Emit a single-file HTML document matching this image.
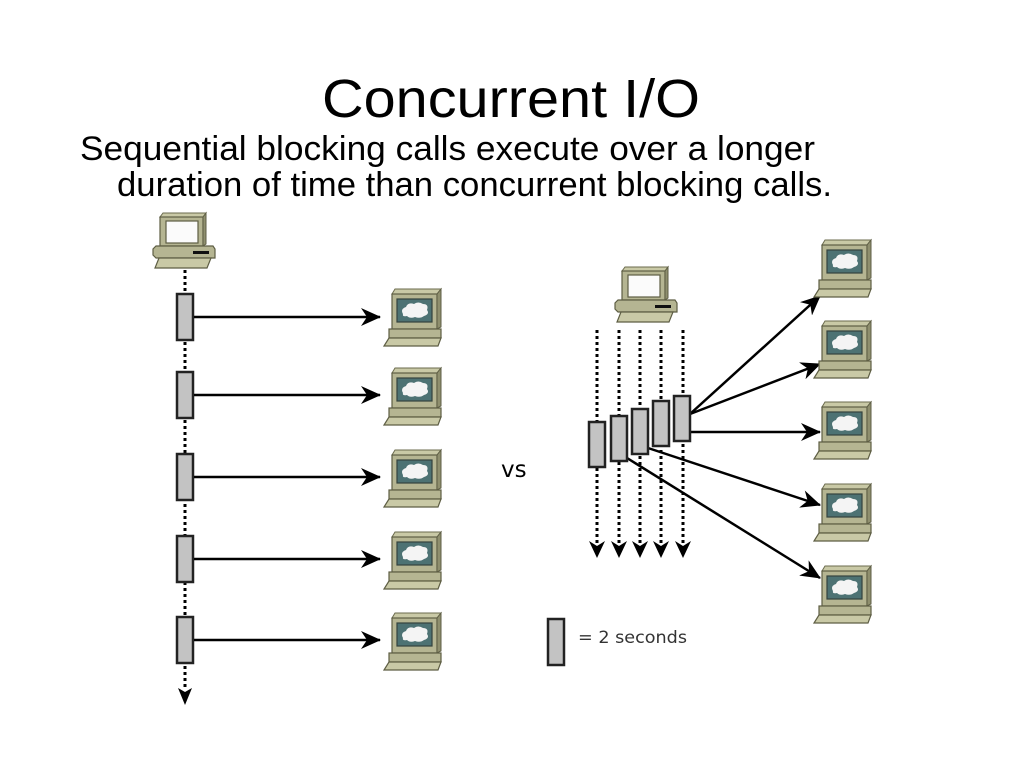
<!DOCTYPE html>
<html><head><meta charset="utf-8"><style>html,body{margin:0;padding:0;background:#fff}svg{display:block}</style></head>
<body>
<svg width="1024" height="768" viewBox="0 0 1024 768" xmlns="http://www.w3.org/2000/svg">
<defs>
<symbol id="srv" overflow="visible">
  <polygon points="11,0 57,0 53,5 8,5" fill="#c9c9a6" stroke="#6b6b4e" stroke-width="1"/>
  <rect x="8" y="5" width="45" height="35" fill="#b5b592" stroke="#5e5e44" stroke-width="1.2"/>
  <polygon points="53,5 57,0 57,38 53,40" fill="#8f8f6e" stroke="#5e5e44" stroke-width="1"/>
  <rect x="13" y="10" width="35" height="23" fill="#4d7273" stroke="#34423e" stroke-width="1.2"/>
  <path d="M19,25 q-3,-5 3,-7 q2,-5 8,-3 q4,-3 9,0 q6,0 4,6 q3,4 -3,6 q-4,3 -9,1 q-5,2 -8,-1 q-5,1 -4,-2z" fill="#f4f4f4"/>
  <rect x="5" y="40" width="52" height="9" fill="#b5b592" stroke="#5e5e44" stroke-width="1.2"/>
  <polygon points="5,49 57,49 54,57 0,57" fill="#c9c9a6" stroke="#5e5e44" stroke-width="1.2"/>
</symbol>
<symbol id="cli" overflow="visible">
  <polygon points="10,0 53,0 50,4 7,4" fill="#c9c9a6" stroke="#6b6b4e" stroke-width="1"/>
  <rect x="7" y="4" width="43" height="29" fill="#b5b592" stroke="#5e5e44" stroke-width="1.2"/>
  <polygon points="50,4 53,0 53,31 50,33" fill="#8f8f6e" stroke="#5e5e44" stroke-width="1"/>
  <rect x="13" y="8" width="32" height="22" fill="#fbfbfb" stroke="#5e5e44" stroke-width="1.2"/>
  <polygon points="3,33 60,33 62,36 62,45 3,45 0,42 0,36" fill="#b5b592" stroke="#5e5e44" stroke-width="1.2"/>
  <rect x="40" y="38" width="16" height="3" fill="#111"/>
  <polygon points="6,45 58,45 54,55 2,55" fill="#c9c9a6" stroke="#5e5e44" stroke-width="1.2"/>
</symbol>
<marker id="ah" markerWidth="20" markerHeight="18" refX="19" refY="9" orient="auto" markerUnits="userSpaceOnUse">
  <path d="M0,0 L20,9 L0,18 L6,9 z" fill="#000"/>
</marker>
</defs>

<text x="322" y="117" font-family="Liberation Sans, sans-serif" font-size="54" textLength="378" lengthAdjust="spacingAndGlyphs">Concurrent I/O</text>
<text x="80" y="160" font-family="Liberation Sans, sans-serif" font-size="34" textLength="735" lengthAdjust="spacingAndGlyphs">Sequential blocking calls execute over a longer</text>
<text x="117" y="196" font-family="Liberation Sans, sans-serif" font-size="34" textLength="715" lengthAdjust="spacingAndGlyphs">duration of time than concurrent blocking calls.</text>

<!-- left -->
<use href="#cli" x="153" y="213"/>
<line x1="185" y1="270" x2="185" y2="690" stroke="#000" stroke-width="3" stroke-dasharray="3,3"/>
<path d="M178,688 L185,705 L192,688 L185,692z" fill="#000"/>
<g fill="#c3c3c3" stroke="#222" stroke-width="2.5">
<rect x="177" y="294" width="16" height="46"/>
<rect x="177" y="372" width="16" height="46"/>
<rect x="177" y="454" width="16" height="46"/>
<rect x="177" y="536" width="16" height="46"/>
<rect x="177" y="617" width="16" height="46"/>
</g>
<g stroke="#000" stroke-width="2.5" marker-end="url(#ah)">
<line x1="194" y1="317" x2="380" y2="317"/>
<line x1="194" y1="395" x2="380" y2="395"/>
<line x1="194" y1="477" x2="380" y2="477"/>
<line x1="194" y1="559" x2="380" y2="559"/>
<line x1="194" y1="640" x2="380" y2="640"/>
</g>
<use href="#srv" x="384" y="289"/>
<use href="#srv" x="384" y="368"/>
<use href="#srv" x="384" y="450"/>
<use href="#srv" x="384" y="532"/>
<use href="#srv" x="384" y="613"/>

<text x="501" y="477" font-family="DejaVu Sans, sans-serif" font-size="23">vs</text>

<!-- right -->
<use href="#cli" x="615" y="267"/>
<g stroke="#000" stroke-width="3" stroke-dasharray="3,3">
<line x1="597" y1="330" x2="597" y2="545"/>
<line x1="619" y1="330" x2="619" y2="545"/>
<line x1="640" y1="330" x2="640" y2="545"/>
<line x1="661" y1="330" x2="661" y2="545"/>
<line x1="683" y1="330" x2="683" y2="545"/>
</g>
<g fill="#000">
<path d="M589,541 L597,558 L605,541 L597,546z"/>
<path d="M611,541 L619,558 L627,541 L619,546z"/>
<path d="M632,541 L640,558 L648,541 L640,546z"/>
<path d="M653,541 L661,558 L669,541 L661,546z"/>
<path d="M675,541 L683,558 L691,541 L683,546z"/>
</g>
<g stroke="#000" stroke-width="2.5" marker-end="url(#ah)">
<line x1="690" y1="414" x2="820" y2="296"/>
<line x1="690" y1="414" x2="820" y2="364"/>
<line x1="690" y1="432" x2="820" y2="432"/>
<line x1="648" y1="448" x2="820" y2="505"/>
<line x1="627" y1="458" x2="820" y2="578"/>
</g>
<g fill="#c3c3c3" stroke="#222" stroke-width="2.5">
<rect x="589" y="422" width="16" height="45"/>
<rect x="611" y="416" width="16" height="45"/>
<rect x="632" y="409" width="16" height="45"/>
<rect x="653" y="401" width="16" height="45"/>
<rect x="674" y="396" width="16" height="45"/>
</g>
<use href="#srv" x="814" y="240"/>
<use href="#srv" x="814" y="321"/>
<use href="#srv" x="814" y="402"/>
<use href="#srv" x="814" y="484"/>
<use href="#srv" x="814" y="566"/>

<rect x="548" y="619" width="16" height="46" fill="#c3c3c3" stroke="#222" stroke-width="2.5"/>
<text x="578" y="643" font-family="DejaVu Sans, sans-serif" font-size="17" textLength="109" lengthAdjust="spacingAndGlyphs" fill="#333">= 2 seconds</text>
</svg>
</body></html>
